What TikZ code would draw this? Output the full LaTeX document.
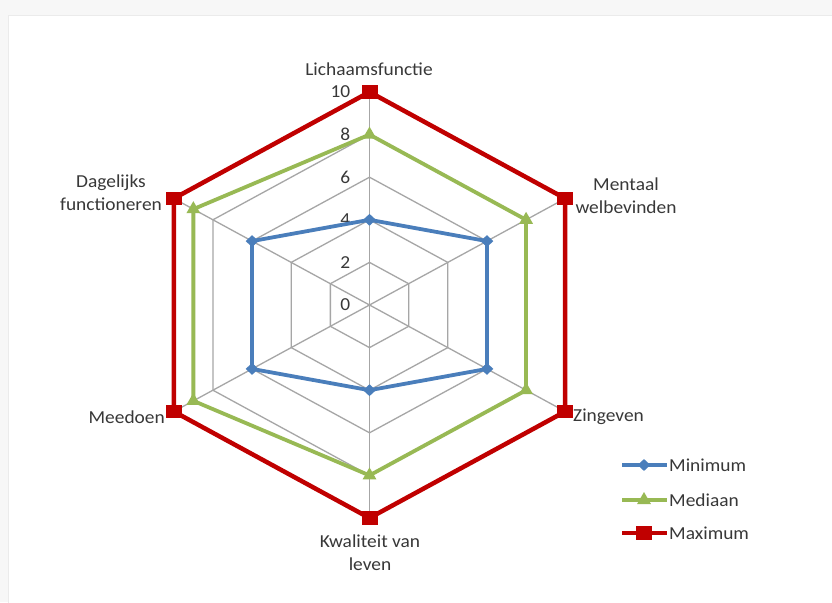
\documentclass[tikz,border=0pt]{standalone}
\usepackage{fontspec}
\setmainfont{Carlito}[FakeStretch=1.06]
\usetikzlibrary{shapes.geometric}
\definecolor{minblue}{HTML}{4A7EBB}
\definecolor{medgreen}{HTML}{98B954}
\definecolor{maxred}{HTML}{C00000}
\definecolor{gridgray}{HTML}{A6A6A6}
\definecolor{txt}{HTML}{383838}
\begin{document}
\begin{tikzpicture}[x=1pt,y=-1pt,
  lbl/.style={text=txt, font=\fontsize{18.3}{23}\selectfont, inner sep=0pt, align=center},
  gridline/.style={draw=gridgray, line width=1.3pt},
  minline/.style={draw=minblue, line width=3.8pt, line join=round},
  medline/.style={draw=medgreen, line width=3.8pt, line join=round},
  maxline/.style={draw=maxred, line width=4.5pt, line join=miter},
  minmark/.style={diamond, fill=minblue, minimum width=13pt, minimum height=12pt, inner sep=0pt},
  medmark/.style={regular polygon, regular polygon sides=3, fill=medgreen, minimum size=16pt, inner sep=0pt},
  maxmark/.style={rectangle, fill=maxred, minimum width=16pt, minimum height=13.5pt, inner sep=0pt}]
\useasboundingbox (0,0) rectangle (832,602);
\fill[black!3] (0,0) rectangle (832,602);
\fill[white, draw=black!8, line width=0.8pt] (8,15) rectangle (840,610);

\begin{scope}[shift={(369.5,305)}, x=22.6pt, y=21.3pt]
  \coordinate (c) at (0,0);
  \foreach \r in {2,4,6,8,10}
    \draw[gridline] (90:\r) -- (30:\r) -- (-30:\r) -- (-90:\r) -- (-150:\r) -- (150:\r) -- cycle;
  \foreach \a in {90,30,-30,-90,-150,150}
    \draw[gridline] (c) -- (\a:10);
  \foreach \r in {0,2,4,6,8,10}
    \node[lbl, anchor=east, xshift=-19pt] (ax\r) at (90:\r) {\r};

  % Maximum
  \coordinate (x1) at (90:10);
  \coordinate (x2) at (30:10);
  \coordinate (x3) at (-30:10);
  \coordinate (x4) at (-90:10);
  \coordinate (x5) at (-150:10);
  \coordinate (x6) at (150:10);
  % Mediaan
  \coordinate (m1) at (90:8);
  \coordinate (m2) at (30:8);
  \coordinate (m3) at (-30:8);
  \coordinate (m4) at (-90:8);
  \coordinate (m5) at (-150:9);
  \coordinate (m6) at (150:9);
  % Minimum
  \coordinate (n1) at (90:4);
  \coordinate (n2) at (30:6);
  \coordinate (n3) at (-30:6);
  \coordinate (n4) at (-90:4);
  \coordinate (n5) at (-150:6);
  \coordinate (n6) at (150:6);
\end{scope}

\draw[maxline] (x1) -- (x2) -- (x3) -- (x4) -- (x5) -- (x6) -- cycle;
\foreach \i in {1,...,6} \node[maxmark] (xx\i) at (x\i) {};
\draw[medline] (m1) -- (m2) -- (m3) -- (m4) -- (m5) -- (m6) -- cycle;
\foreach \i in {1,...,6} \node[medmark] (mm\i) at (m\i) {};
\draw[minline] (n1) -- (n2) -- (n3) -- (n4) -- (n5) -- (n6) -- cycle;
\foreach \i in {1,...,6} \node[minmark] (nn\i) at (n\i) {};

% category labels
\node[lbl] (L1) at (369,69) {Lichaamsfunctie};
\node[lbl] (L2) at (626,196) {Mentaal\\welbevinden};
\node[lbl, anchor=west] (L3) at (573,417) {Zingeven};
\node[lbl] (L4) at (370,553) {Kwaliteit van\\leven};
\node[lbl, anchor=east] (L5) at (165,417) {Meedoen};
\node[lbl] (L6) at (111,193) {Dagelijks\\functioneren};

% legend
\coordinate (la1) at (622,465); \coordinate (lb1) at (667,465);
\draw[minline] (la1) -- (lb1);
\node[minmark] (lm1) at (644,465) {};
\node[lbl, anchor=west] (lt1) at (669,465) {Minimum};
\coordinate (la2) at (622,500); \coordinate (lb2) at (667,500);
\draw[medline] (la2) -- (lb2);
\node[medmark] (lm2) at (644,500) {};
\node[lbl, anchor=west] (lt2) at (669,500) {Mediaan};
\coordinate (la3) at (622,533); \coordinate (lb3) at (667,533);
\draw[maxline] (la3) -- (lb3);
\node[maxmark] (lm3) at (644,533) {};
\node[lbl, anchor=west] (lt3) at (669,533) {Maximum};
\end{tikzpicture}
\end{document}
